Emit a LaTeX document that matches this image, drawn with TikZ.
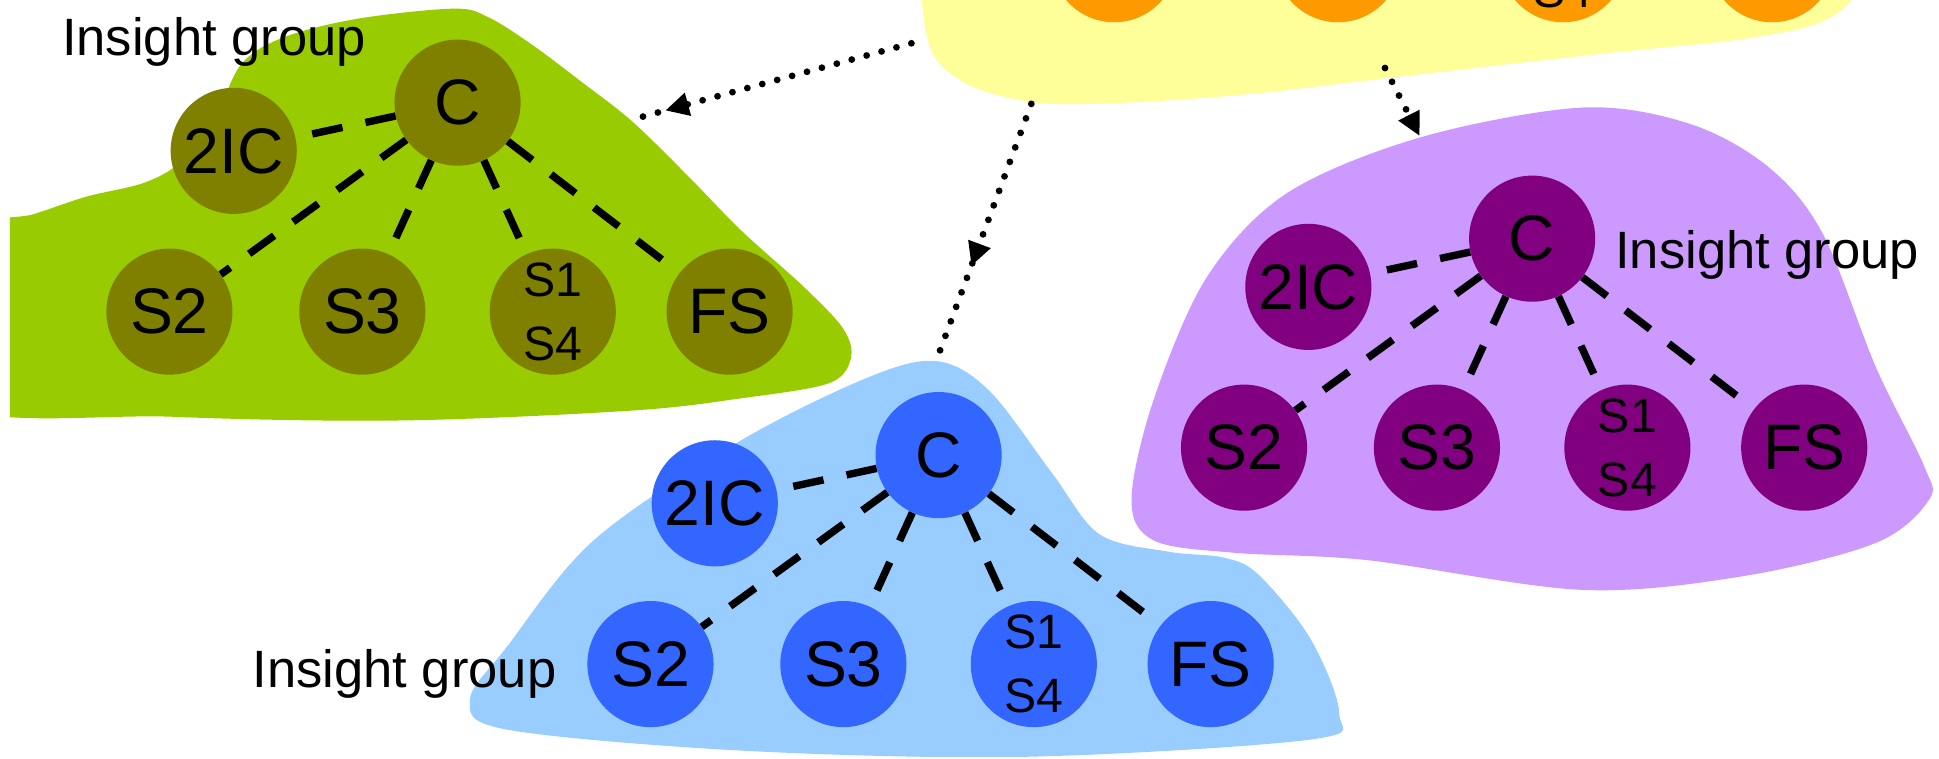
\documentclass[tikz,border=0pt]{standalone}
\usepackage{fontspec}
\setmainfont{Liberation Sans}
\usetikzlibrary{arrows.meta,decorations.markings}

\definecolor{greenblob}{HTML}{99CC00}
\definecolor{greennode}{HTML}{808000}
\definecolor{blueblob}{HTML}{99CCFF}
\definecolor{bluenode}{HTML}{3366FF}
\definecolor{purpleblob}{HTML}{CC99FF}
\definecolor{purplenode}{HTML}{800080}
\definecolor{yellowblob}{HTML}{FFFF99}
\definecolor{orangenode}{HTML}{FF9900}

\tikzset{
  member/.style={circle, minimum size=102pt, inner sep=0pt, text=black,
    font=\fontsize{52}{60}\selectfont},
  pair/.style={member, align=center, font=\fontsize{39}{52}\selectfont},
  link/.style={line width=6pt, dash pattern=on 25pt off 19pt},
  route/.style={line width=5.5pt, line cap=round, dash pattern=on 0pt off 12.5pt},
  headtip/.tip={Triangle[length=19pt,width=18pt]},
  grouplabel/.style={anchor=base west, inner sep=0pt, text=black,
    font=\fontsize{42.5}{50}\selectfont},
}

% one team: commander C, second in command, and four sections below
\newcommand\teamtree[4]{%
  \begin{scope}[shift={(#2,#3)}]
    \node[member, fill=#4] (#1c)   at (0,0)      {C};
    \node[member, fill=#4] (#1ic)  at (-181,39)  {2IC};
    \node[member, fill=#4] (#1s2)  at (-233,169) {S2};
    \node[member, fill=#4] (#1s3)  at (-77,169)  {S3};
    \node[pair,   fill=#4] (#1s14) at (77,169)   {S1\\S4};
    \node[member, fill=#4] (#1fs)  at (220,169)  {FS};
  \end{scope}
  \foreach \t in {ic,s2,s3,s14,fs} \draw[link] (#1c) -- (#1\t);
}

\begin{document}
\begin{tikzpicture}[x=1pt,y=-1pt]
  \clip (0,0) rectangle (1568,613);
  \fill[white] (0,0) rectangle (1568,613);

  % group areas
  \fill[yellowblob] plot[smooth cycle, tension=0.6] coordinates {
    (745,-60) (749,27) (772,62) (820,80) (880,84) (1000,77) (1140,61)
    (1290,44) (1420,30) (1482,13) (1505,-20) (1500,-80) (1100,-110) (760,-100)};
  \begin{scope}
    \clip (8,-50) rectangle (1000,400);
    \fill[greenblob] plot[smooth cycle, tension=0.55] coordinates {
      (-40,195) (28,173) (70,159) (116,148) (145,132) (172,100) (195,52)
      (230,30) (290,15) (367,7) (395,14) (430,36) (470,66) (511,98)
      (557,143) (600,187) (650,232) (682,266) (688,290) (670,310)
      (600,322) (511,332) (325,340) (139,337) (-40,325)};
  \end{scope}
  \fill[blueblob] plot[smooth cycle, tension=0.55] coordinates {
    (757,292) (800,316) (851,383) (889,432) (944,446) (990,451) (1018,465)
    (1060,517) (1083,577) (1060,598) (828,612) (600,607) (410,590)
    (380,566) (410,523) (480,437) (596,358) (700,306)};
  \fill[purpleblob] plot[smooth cycle, tension=0.55] coordinates {
    (1279,87) (1366,100) (1430,135) (1474,189) (1517,297) (1556,377)
    (1560,404) (1517,439) (1409,466) (1279,477) (1106,453) (998,447)
    (933,437) (915,404) (933,323) (976,224) (1041,156) (1149,111)};

  % top group, mostly above the page
  \node[member, fill=orangenode] (ys2)  at (901,-33)  {};
  \node[member, fill=orangenode] (ys3)  at (1082,-33) {};
  \node[pair,   fill=orangenode] (ys14) at (1264,-33) {S1\\S4};
  \node[member, fill=orangenode] (yfs)  at (1433,-33) {};

  % the three insight groups
  \teamtree{g}{370}{83}{greennode}
  \teamtree{b}{759}{368}{bluenode}
  \teamtree{p}{1239}{193}{purplenode}

  \node[grouplabel] (glabel) at (50,45)   {Insight group};
  \node[grouplabel] (plabel) at (1306,217) {Insight group};
  \node[grouplabel] (blabel) at (204,556) {Insight group};

  % dotted links from the top group
  \coordinate (ya) at (737,35);
  \coordinate (yb) at (834,84);
  \coordinate (yc) at (1120,55);
  \coordinate (ga) at (510,97);
  \coordinate (ba) at (757,292);
  \coordinate (pa) at (1148,110);
  \draw[route, postaction={decorate}, decoration={markings,
    mark=at position -29pt with {\arrow{headtip}}}] (ya) -- (ga);
  \draw[route, postaction={decorate}, decoration={markings,
    mark=at position -82pt with {\arrow{headtip}}}] (yb) -- (ba);
  \draw[route, -headtip] (yc) -- (pa);
\end{tikzpicture}
\end{document}
